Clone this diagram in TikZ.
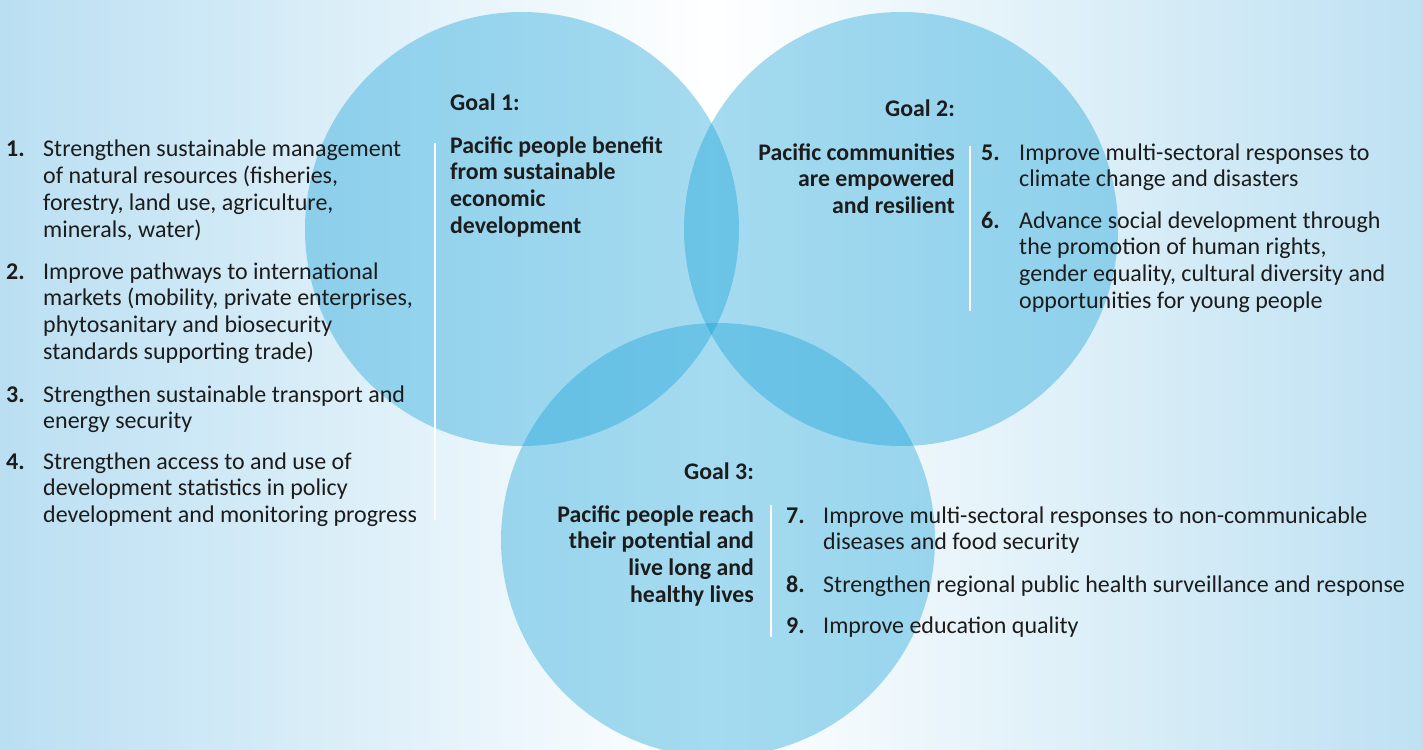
\documentclass[tikz,border=0pt]{standalone}
\usepackage{fontspec}
\setmainfont{Carlito}
\definecolor{bgL}{RGB}{186,223,242}
\definecolor{bgR}{RGB}{190,225,242}
\definecolor{cblue}{RGB}{12,158,215}
\definecolor{txt}{RGB}{28,28,28}
\newcommand\mybox[2]{\parbox[t]{#1}{#2}}
\tikzset{
  venn/.style={circle, draw=none, fill=cblue, fill opacity=0.37, minimum size=434pt, inner sep=0},
  itemtext/.style={font=\fontsize{24}{26.7}\selectfont, text=txt, inner sep=0, anchor=base west},
  itemnum/.style={font=\fontsize{24}{26.7}\selectfont\bfseries, text=txt, inner sep=0, anchor=base west},
  goalL/.style={font=\fontsize{23.8}{26.7}\selectfont\bfseries, text=txt, inner sep=0, anchor=base west},
  goalR/.style={font=\fontsize{23.8}{26.7}\selectfont\bfseries, text=txt, inner sep=0, anchor=base east},
  divider/.style={draw=white, line width=1.4pt}
}
\begin{document}
\begin{tikzpicture}[x=1pt,y=-1pt]
\useasboundingbox (0,0) rectangle (1423,749);
\shade[left color=bgL, right color=bgR, middle color=white] (0,0) rectangle (1423,749);
% circles
\node[venn] (c1) at (522,229) {};
\node[venn] (c2) at (901,229) {};
\node[venn] (c3) at (718,540) {};
% dividers
\coordinate (d1a) at (435,143); \coordinate (d1b) at (435,520);
\coordinate (d2a) at (970,146); \coordinate (d2b) at (970,311);
\coordinate (d3a) at (771,505); \coordinate (d3b) at (771,637);
\draw[divider] (d1a) -- (d1b);
\draw[divider] (d2a) -- (d2b);
\draw[divider] (d3a) -- (d3b);
% left list
\node[itemnum] (n1) at (6,157) {1.};
\node[itemtext] (t1) at (43,157) {\mybox{390pt}{\raggedright Strengthen sustainable management\\of natural resources (fisheries,\\forestry, land use, agriculture,\\minerals, water)}};
\node[itemnum] (n2) at (6,279) {2.};
\node[itemtext] (t2) at (43,279) {\mybox{390pt}{\raggedright Improve pathways to international\\markets (mobility, private enterprises,\\phytosanitary and biosecurity\\standards supporting trade)}};
\node[itemnum] (n3) at (6,402) {3.};
\node[itemtext] (t3) at (43,402) {\mybox{390pt}{\raggedright Strengthen sustainable transport and\\energy security}};
\node[itemnum] (n4) at (6,469) {4.};
\node[itemtext] (t4) at (43,469) {\mybox{390pt}{\raggedright Strengthen access to and use of\\development statistics in policy\\development and monitoring progress}};
% goal 1
\node[goalL] (g1h) at (450,111) {Goal 1:};
\node[goalL] (g1) at (450,153) {\mybox{240pt}{\raggedright Pacific people benefit\\from sustainable\\economic\\development}};
% goal 2
\node[goalR] (g2h) at (955,117) {Goal 2:};
\node[goalR] (g2) at (955,160) {\mybox{240pt}{\raggedleft Pacific communities\\are empowered\\and resilient}};
\node[itemnum] (n5) at (981,160) {5.};
\node[itemtext] (t5) at (1019,160) {\mybox{400pt}{\raggedright Improve multi-sectoral responses to\\climate change and disasters}};
\node[itemnum] (n6) at (981,228) {6.};
\node[itemtext] (t6) at (1019,228) {\mybox{400pt}{\raggedright Advance social development through\\the promotion of human rights,\\gender equality, cultural diversity and\\opportunities for young people}};
% goal 3
\node[goalR] (g3h) at (754,479) {Goal 3:};
\node[goalR] (g3) at (754,522) {\mybox{240pt}{\raggedleft Pacific people reach\\their potential and\\live long and\\healthy lives}};
\node[itemnum] (n7) at (786,523) {7.};
\node[itemtext] (t7) at (823,523) {\mybox{590pt}{\raggedright Improve multi-sectoral responses to non-communicable\\diseases and food security}};
\node[itemnum] (n8) at (786,592) {8.};
\node[itemtext] (t8) at (823,592) {\mybox{590pt}{\raggedright Strengthen regional public health surveillance and response}};
\node[itemnum] (n9) at (786,633) {9.};
\node[itemtext] (t9) at (823,633) {\mybox{590pt}{\raggedright Improve education quality}};
\end{tikzpicture}
\end{document}
